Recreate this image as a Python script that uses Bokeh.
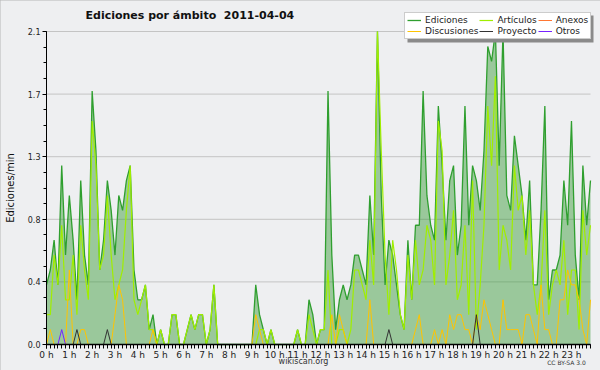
from bokeh.plotting import figure
from bokeh.models import (FixedTicker, Range1d, Label, Legend, LegendItem,
                          BoxAnnotation, ColumnDataSource, LinearAxis)
from bokeh.embed import file_html
from bokeh.resources import INLINE

# ---- data (edits per minute, 10-minute bins, 2011-04-04) ----
minutes = list(range(0, 1440, 10))

ediciones = [
    0.4, 0.5, 0.7, 0.4, 1.2, 0.6, 1.0, 0.7, 0.3, 1.1, 0.6, 0.4,
    1.7, 1.3, 0.5, 0.7, 1.1, 0.9, 0.6, 1.0, 0.9, 1.1, 1.2, 0.5,
    0.3, 0.3, 0.4, 0.1, 0.2, 0.0, 0.1, 0.0, 0.0, 0.2, 0.2, 0.0,
    0.0, 0.1, 0.2, 0.1, 0.2, 0.2, 0.0, 0.1, 0.4, 0.0, 0.0, 0.0,
    0.0, 0.0, 0.0, 0.0, 0.0, 0.0, 0.0, 0.4, 0.2, 0.1, 0.0, 0.1,
    0.0, 0.0, 0.0, 0.0, 0.0, 0.0, 0.1, 0.0, 0.0, 0.3, 0.2, 0.0,
    0.1, 0.1, 1.7, 0.6, 0.1, 0.3, 0.4, 0.3, 0.4, 0.6, 0.6, 0.5,
    0.4, 1.0, 0.6, 2.1, 1.0, 0.4, 0.7, 0.6, 0.4, 0.2, 0.1, 0.7,
    0.3, 0.8, 0.8, 1.7, 1.0, 0.8, 0.7, 1.6, 1.2, 0.7, 1.1, 1.2,
    0.6, 0.8, 1.6, 0.8, 1.2, 1.1, 0.9, 1.3, 2.0, 1.9, 2.1, 1.2,
    2.1, 1.0, 0.9, 1.4, 1.2, 1.0, 0.7, 1.1, 0.4, 0.4, 0.9, 1.6,
    0.3, 0.5, 0.5, 0.6, 1.1, 0.8, 1.5, 0.6, 0.3, 1.2, 0.8, 1.1,
]

articulos = [
    0.2, 0.2, 0.6, 0.4, 0.8, 0.3, 0.3, 0.6, 0.2, 0.8, 0.5, 0.3,
    1.5, 1.2, 0.5, 0.6, 1.0, 0.6, 0.3, 0.4, 0.5, 0.9, 1.2, 0.3,
    0.2, 0.3, 0.4, 0.1, 0.1, 0.0, 0.1, 0.0, 0.0, 0.2, 0.2, 0.0,
    0.0, 0.1, 0.2, 0.1, 0.2, 0.2, 0.0, 0.1, 0.4, 0.0, 0.0, 0.0,
    0.0, 0.0, 0.0, 0.0, 0.0, 0.0, 0.0, 0.0, 0.1, 0.1, 0.0, 0.1,
    0.0, 0.0, 0.0, 0.0, 0.0, 0.0, 0.1, 0.0, 0.0, 0.2, 0.1, 0.0,
    0.1, 0.1, 0.5, 0.0, 0.0, 0.1, 0.1, 0.0, 0.1, 0.5, 0.5, 0.4,
    0.3, 0.7, 0.4, 2.1, 1.3, 0.6, 0.2, 0.7, 0.5, 0.2, 0.1, 0.6,
    0.3, 0.7, 0.4, 0.5, 0.8, 0.7, 0.4, 1.5, 1.3, 0.4, 0.6, 0.9,
    0.3, 0.4, 0.8, 0.2, 1.1, 0.1, 0.4, 0.8, 1.6, 1.2, 1.8, 0.5,
    0.8, 0.7, 0.5, 1.2, 0.9, 1.0, 0.6, 0.9, 0.4, 0.2, 0.4, 0.9,
    0.2, 0.4, 0.5, 0.4, 0.7, 0.2, 0.5, 0.5, 0.1, 0.9, 0.6, 0.8,
]

anexos = [0.0] * 144

discusiones = [
    0.0, 0.1, 0.0, 0.0, 0.0, 0.0, 0.5, 0.0, 0.0, 0.1, 0.1, 0.0,
    0.0, 0.0, 0.0, 0.0, 0.0, 0.0, 0.2, 0.4, 0.3, 0.0, 0.0, 0.0,
    0.0, 0.0, 0.0, 0.0, 0.1, 0.0, 0.0, 0.0, 0.0, 0.0, 0.0, 0.0,
    0.0, 0.0, 0.0, 0.0, 0.0, 0.0, 0.0, 0.0, 0.0, 0.0, 0.0, 0.0,
    0.0, 0.0, 0.0, 0.0, 0.0, 0.0, 0.0, 0.2, 0.1, 0.0, 0.0, 0.0,
    0.0, 0.0, 0.0, 0.0, 0.0, 0.0, 0.0, 0.0, 0.0, 0.0, 0.0, 0.0,
    0.0, 0.0, 0.0, 0.2, 0.0, 0.2, 0.1, 0.0, 0.0, 0.0, 0.0, 0.0,
    0.0, 0.3, 0.0, 0.0, 0.0, 0.0, 0.0, 0.0, 0.0, 0.0, 0.0, 0.0,
    0.0, 0.1, 0.2, 0.0, 0.0, 0.0, 0.1, 0.0, 0.1, 0.0, 0.2, 0.1,
    0.2, 0.2, 0.1, 0.1, 0.0, 0.2, 0.1, 0.3, 0.2, 0.1, 0.0, 0.0,
    0.3, 0.1, 0.1, 0.1, 0.1, 0.0, 0.2, 0.2, 0.1, 0.0, 0.4, 0.1,
    0.1, 0.0, 0.0, 0.3, 0.3, 0.5, 0.4, 0.4, 0.3, 0.1, 0.0, 0.3,
]

proyecto = [0.0] * 144
for idx, val in [(8, 0.1), (16, 0.1), (90, 0.1), (113, 0.2)]:
    proyecto[idx] = val

otros = [0.0] * 144
otros[4] = 0.1

hour_ticks = list(range(24))
hour_labels = [f"{h} h" for h in hour_ticks]
y_ticks = [0.0, 0.42, 0.84, 1.26, 1.68, 2.1]
y_tick_labels = ["0.0", "0.4", "0.8", "1.3", "1.7", "2.1"]

FONT = "DejaVu Sans"
BG = "#eeeff1"

hours = [m / 60 for m in minutes]
x_end = hours[-1]
y_top = max(y_ticks)

# ---- layout: the frame fills the whole figure; axes are fixed inside it ----
W, H = 600, 370
PLOT_LEFT, PLOT_TOP, PLOT_BOTTOM, PLOT_RIGHT = 46, 31, 344, 590
ppu_y = (PLOT_BOTTOM - PLOT_TOP) / y_top
ppu_x = (PLOT_RIGHT - PLOT_LEFT) / x_end
y_lo = -(H - PLOT_BOTTOM) / ppu_y
y_hi = y_top + PLOT_TOP / ppu_y
x_lo = -PLOT_LEFT / ppu_x
x_hi = x_end + (W - PLOT_RIGHT) / ppu_x

src = ColumnDataSource(data=dict(x=hours, ed=ediciones, ar=articulos, an=anexos,
                                 di=discusiones, pr=proyecto, ot=otros))

p = figure(width=W, height=H, output_backend="svg", toolbar_location=None,
           x_range=Range1d(x_lo, x_hi), y_range=Range1d(y_lo, y_hi),
           min_border_left=0, min_border_right=0, min_border_top=0,
           min_border_bottom=0, background_fill_color=BG,
           border_fill_color=BG, outline_line_color=None,
           x_axis_location=None, y_axis_location=None)
p.styles = {"outline": "2px solid #b6b6b6", "outline-offset": "-2px"}

p.xgrid.grid_line_color = None
p.ygrid.grid_line_color = None

# horizontal grid lines at the y ticks, limited to the data span
p.segment(x0=0, x1=x_end, y0=y_ticks[1:], y1=y_ticks[1:], color="#c4c4c4",
          line_width=1)

p.varea(x="x", y1=0, y2="ed", source=src, fill_color="#339933", fill_alpha=0.45)
r_ed = p.line("x", "ed", source=src, color="#2f9f2f", line_width=1.3)
r_ar = p.line("x", "ar", source=src, color="#a0ee00", line_width=1.2)
r_an = p.line("x", "an", source=src, color="#ff7733", line_width=1)
r_di = p.line("x", "di", source=src, color="#ffc400", line_width=1)
r_pr = p.line("x", "pr", source=src, color="#333333", line_width=1)
r_ot = p.line("x", "ot", source=src, color="#7722ff", line_width=1)

# axes, fixed at 0 inside the frame
xax = LinearAxis(fixed_location=0, bounds=(0, x_end),
                 ticker=FixedTicker(ticks=hour_ticks, minor_ticks=hours))
xax.major_label_overrides = {h: lab for h, lab in zip(hour_ticks, hour_labels)}
p.add_layout(xax, "below")

yax = LinearAxis(fixed_location=0, bounds=(0, y_top),
                 ticker=FixedTicker(ticks=y_ticks,
                                    minor_ticks=[k * y_ticks[1] / 4 for k in range(21)]))
yax.major_label_overrides = {t: lab for t, lab in zip(y_ticks, y_tick_labels)}
p.add_layout(yax, "left")

for ax in (xax, yax):
    ax.axis_line_color = "black"
    ax.major_tick_line_color = "black"
    ax.minor_tick_line_color = "black"
    ax.major_tick_in = 0
    ax.minor_tick_in = 0
    ax.major_label_text_font = FONT
    ax.major_label_text_color = "#222222"
xax.axis_line_width = 1.3
xax.major_tick_out = 4
xax.minor_tick_out = 4
xax.major_label_standoff = 1
xax.major_label_text_font_size = "9px"
yax.major_tick_out = 4
yax.minor_tick_out = 3
yax.major_label_standoff = 2
yax.major_label_text_font_size = "8px"
yax.axis_label = "Ediciones/min"
yax.axis_label_text_font = FONT
yax.axis_label_text_font_size = "10px"
yax.axis_label_text_font_style = "normal"
yax.axis_label_text_color = "#111111"
yax.axis_label_standoff = 9

# title & footer texts (screen units relative to the frame = figure)
p.add_layout(Label(x=85, y=H - 15, x_units="screen", y_units="screen",
                   text="Ediciones por ámbito\u00a0\u00a02011-04-04", text_font=FONT,
                   text_font_size="11px", text_font_style="bold",
                   text_baseline="middle", text_color="#111111"))
p.add_layout(Label(x=303, y=H - 361, x_units="screen", y_units="screen",
                   text="wikiscan.org", text_font=FONT, text_font_size="8px",
                   text_align="center", text_baseline="middle", text_color="#333333"))
p.add_layout(Label(x=566, y=H - 362, x_units="screen", y_units="screen",
                   text="CC BY-SA 3.0", text_font=FONT, text_font_size="6px",
                   text_align="center", text_baseline="middle", text_color="#333333"))

# legend (with shadow)
LG_L, LG_B, LG_W, LG_H = 404, H - 39, 186, 27
p.add_layout(BoxAnnotation(left=LG_L + 3, right=LG_L + LG_W + 3,
                           bottom=LG_B - 3, top=LG_B + LG_H - 3,
                           left_units="screen", right_units="screen",
                           bottom_units="screen", top_units="screen",
                           fill_color="#8a8a8a", fill_alpha=1, line_color=None,
                           level="annotation"))
legend_entries = [("Ediciones", r_ed), ("Discusiones", r_di), ("Artículos", r_ar),
                  ("Proyecto", r_pr), ("Anexos", r_an), ("Otros", r_ot)]
items = [LegendItem(label=name, renderers=[r]) for name, r in legend_entries]
legend = Legend(items=items, location=(LG_L, LG_B), orientation="vertical", nrows=2,
                label_text_font=FONT, label_text_font_size="9px",
                label_text_color="#222222", label_height=10, glyph_height=10,
                glyph_width=14, label_standoff=4, padding=2, spacing=1, margin=0,
                background_fill_color="white", background_fill_alpha=1,
                border_line_color="#9a9a9a", border_line_width=1)
p.add_layout(legend)

open("out.html", "w").write(file_html(p, INLINE))
